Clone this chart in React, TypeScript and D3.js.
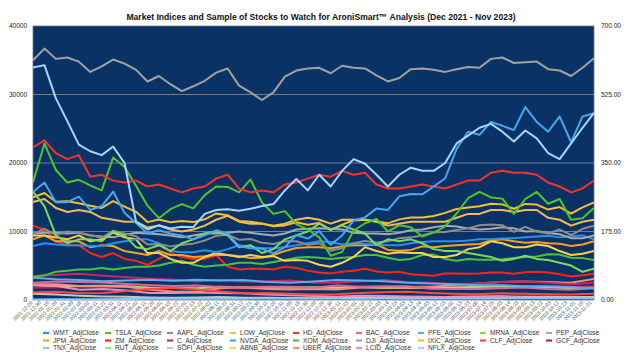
import React from 'react';
import * as d3 from 'd3';

// ---------- data ----------
const tickLabels = [
  "2021-12-20","2021-12-30","2022-01-10","2022-01-20","2022-01-31","2022-02-09","2022-02-18","2022-03-02","2022-03-11","2022-03-22",
  "2022-03-31","2022-04-11","2022-04-21","2022-05-02","2022-05-11","2022-05-20","2022-06-01","2022-06-10","2022-06-22","2022-07-01",
  "2022-07-13","2022-07-22","2022-08-02","2022-08-11","2022-08-22","2022-08-31","2022-09-12","2022-09-21","2022-09-30","2022-10-11",
  "2022-10-20","2022-10-31","2022-11-09","2022-11-18","2022-11-30","2022-12-09","2022-12-20","2022-12-30","2023-01-11","2023-01-23",
  "2023-02-01","2023-02-10","2023-02-22","2023-03-03","2023-03-14","2023-03-23","2023-04-03","2023-04-13","2023-04-24","2023-05-03",
  "2023-05-12","2023-05-23","2023-06-02","2023-06-13","2023-06-23","2023-07-05","2023-07-14","2023-07-25","2023-08-03","2023-08-14",
  "2023-08-23","2023-09-01","2023-09-13","2023-09-22","2023-10-03","2023-10-12","2023-10-23","2023-11-01","2023-11-10","2023-11-21"
];
const tickStep = 7; // trading days between labels
const lastDay = 485;

const leftTicks = [0, 10000, 20000, 30000, 40000];
const rightTicks = [0, 175, 350, 525, 700];

// left-axis series (indices)
const DJI = [35000, 36700, 35200, 35400, 34800, 33300, 34100, 35100, 34500, 33600, 31900, 32700, 31500, 30500, 31200, 32000, 33200, 33800, 31300, 30300, 29200, 30300, 32600, 33500, 33800, 33900, 33100, 34200, 33900, 33800, 32800, 31900, 32400, 33700, 33800, 33600, 33300, 33700, 34000, 33900, 35200, 35400, 34600, 34700, 34800, 33700, 33500, 32700, 33900, 35300];
const IXIC = [14980, 15620, 14340, 14420, 14120, 13750, 13440, 14440, 13640, 12870, 11370, 11740, 11340, 11520, 11370, 11780, 12640, 12380, 11540, 11430, 11180, 10770, 10890, 11360, 10980, 11260, 10210, 11000, 11620, 11720, 11470, 11190, 11770, 12030, 12040, 12260, 12720, 13280, 13500, 13680, 14060, 13960, 13320, 14030, 13930, 13200, 13570, 12600, 13520, 14250];
const RUT = [2180, 2050, 2040, 2080, 2000, 1800, 1750, 1720, 1920, 1840, 1750, 1810, 1860, 1760, 1890, 1760, 1740, 1780, 1830, 1890, 1980, 1920, 1860, 1720, 1800];
const GCF = [1800, 1840, 1900, 1920, 1970, 1820, 1870, 1730, 1800, 1720, 1720, 1650, 1800, 1820, 1930, 1830, 1960, 2000, 1975, 1935, 1980, 1920, 1930, 1880, 1990];

// right-axis series (stocks, TNX)
const NFLX = [594, 600, 515, 457, 397, 380, 370, 392, 350, 200, 180, 191, 183, 187, 186, 220, 230, 232, 228, 233, 240, 245, 280, 309, 280, 320, 290, 330, 360, 348, 320, 290, 320, 338, 330, 330, 350, 400, 420, 440, 450, 430, 405, 433, 413, 375, 360, 400, 440, 478];
const NVDA = [276, 300, 250, 250, 264, 230, 240, 277, 222, 197, 170, 178, 170, 165, 155, 165, 178, 170, 137, 132, 131, 119, 135, 166, 157, 176, 141, 165, 203, 211, 234, 230, 265, 271, 270, 290, 311, 386, 430, 422, 455, 445, 434, 493, 455, 430, 469, 403, 469, 477];
const TSLA = [300, 400, 332, 300, 307, 293, 280, 364, 340, 292, 241, 209, 232, 245, 234, 268, 290, 289, 275, 308, 249, 220, 227, 194, 180, 160, 113, 123, 177, 196, 207, 175, 191, 186, 162, 172, 188, 221, 260, 276, 262, 259, 220, 258, 276, 246, 258, 205, 209, 235];
const MRNA = [277, 240, 165, 145, 155, 155, 150, 175, 165, 135, 130, 140, 125, 145, 155, 170, 175, 165, 135, 140, 120, 130, 155, 165, 175, 195, 180, 190, 180, 170, 140, 155, 150, 155, 145, 130, 125, 125, 120, 115, 110, 100, 105, 113, 105, 102, 95, 88, 72, 80];
const HD = [390, 408, 375, 360, 370, 315, 320, 305, 300, 305, 290, 295, 285, 275, 285, 290, 310, 320, 285, 275, 280, 275, 295, 300, 310, 320, 315, 330, 320, 325, 295, 285, 285, 290, 295, 290, 285, 295, 305, 305, 325, 330, 325, 325, 320, 300, 290, 275, 285, 305];
const LOW = [250, 258, 235, 225, 230, 225, 210, 205, 200, 200, 185, 190, 180, 175, 180, 190, 205, 215, 200, 195, 195, 190, 195, 205, 210, 205, 195, 205, 205, 205, 200, 190, 195, 200, 200, 200, 200, 210, 220, 220, 230, 230, 225, 230, 230, 210, 205, 190, 200, 205];
const JPM = [155, 165, 150, 150, 150, 135, 140, 138, 125, 120, 115, 125, 115, 115, 110, 112, 115, 115, 112, 107, 108, 115, 125, 133, 135, 135, 132, 137, 140, 140, 142, 128, 126, 128, 137, 135, 138, 140, 142, 143, 152, 155, 150, 146, 148, 145, 144, 138, 142, 150];
const ABNB = [165, 165, 160, 155, 165, 150, 155, 172, 160, 155, 120, 120, 105, 95, 95, 110, 120, 115, 110, 115, 110, 112, 100, 102, 100, 90, 85, 95, 110, 135, 125, 118, 122, 120, 120, 110, 110, 115, 130, 135, 150, 145, 135, 135, 142, 138, 125, 115, 118, 125];
const AAPL = [168, 182, 166, 175, 172, 166, 159, 177, 170, 163, 142, 143, 137, 141, 144, 152, 164, 167, 154, 156, 146, 143, 150, 150, 141, 145, 126, 133, 145, 151, 147, 150, 158, 160, 165, 173, 174, 179, 183, 191, 193, 191, 174, 187, 175, 170, 180, 166, 182, 190];
const PEP = [170, 172, 172, 170, 172, 165, 162, 160, 167, 172, 170, 168, 165, 160, 165, 170, 170, 172, 175, 172, 168, 165, 170, 180, 182, 183, 182, 180, 172, 170, 170, 168, 172, 178, 180, 186, 190, 188, 183, 180, 182, 186, 183, 175, 176, 171, 168, 158, 158, 165];
const WMT = [138, 145, 142, 140, 140, 138, 138, 145, 150, 155, 155, 145, 125, 122, 122, 127, 122, 130, 140, 135, 133, 132, 135, 140, 145, 150, 148, 142, 145, 143, 142, 140, 140, 145, 148, 150, 150, 150, 152, 155, 155, 157, 158, 160, 162, 164, 160, 163, 165, 155];
const XOM = [58, 63, 72, 75, 78, 78, 82, 78, 82, 85, 85, 88, 95, 100, 90, 85, 88, 90, 95, 95, 92, 97, 102, 108, 110, 108, 105, 108, 110, 115, 115, 108, 102, 105, 115, 116, 105, 100, 105, 103, 103, 104, 107, 110, 111, 117, 116, 108, 107, 102];
const ZM = [190, 180, 150, 140, 140, 120, 110, 120, 105, 100, 90, 105, 120, 110, 105, 105, 115, 85, 78, 80, 80, 78, 85, 82, 75, 70, 68, 72, 75, 80, 73, 70, 72, 66, 64, 62, 68, 68, 67, 68, 70, 70, 67, 71, 72, 70, 66, 60, 63, 67];
const BAC = [44, 47, 46, 45, 41, 38, 36, 37, 33, 32, 34, 34, 31, 37, 34, 35, 35, 29, 28, 28, 30, 32, 28, 26, 30];
const PFE = [57, 53, 51, 48, 50, 52, 49, 52, 50, 51, 46, 44, 47, 51, 50, 48, 44, 42, 40, 38, 38, 35, 35, 33, 30];
const C = [61, 64, 67, 62, 58, 54, 52, 47, 51, 47, 48, 50, 45, 44, 48, 51, 46, 44, 41, 42, 46, 47, 44, 40, 44];
const CLF = [20, 21, 17, 18, 23, 28, 31, 27, 22, 17, 18, 16, 14, 15, 18, 20, 21, 18, 16, 15, 17, 16, 15, 14, 16];
const TNX = [1.4, 1.8, 1.9, 2.1, 2.8, 2.9, 3.2, 2.9, 2.9, 3.3, 3.8, 3.8, 3.6, 3.8, 3.5, 3.9, 3.4, 3.6, 3.7, 3.8, 4.1, 4.3, 4.3, 4.7, 4.4];
const SOFI = [16, 14, 11, 9, 8, 6.5, 6, 6.5, 7.5, 6, 5.5, 4.8, 4.6, 5, 6, 6, 6, 6.5, 8, 9, 9.5, 8.5, 8, 7.5, 7.5];
const UBER = [40, 40, 36, 35, 34, 26, 22, 21, 30, 33, 28, 27, 28, 27, 32, 32, 31, 33, 38, 42, 46, 47, 46, 44, 54];
const LCID = [38, 36, 26, 28, 24, 18, 18, 19, 18, 17, 14, 12, 10, 8, 11, 10, 9, 8, 7, 6.8, 8.5, 6.2, 5.6, 5.5, 4.3];

// legend order (row-major, 9 columns)
const legendNames = [
  "WMT","TSLA","AAPL","LOW","HD","BAC","PFE","MRNA","PEP",
  "JPM","ZM","C","NVDA","XOM","DJI","IXIC","CLF","GCF",
  "TNX","RUT","SOFI","ABNB","UBER","LCID","NFLX"
];
// drawing order (back to front)
const drawOrder = ["GCF","RUT","SOFI","LCID","UBER","CLF","BAC","C","PFE","ZM","XOM","JPM","ABNB","WMT","PEP","AAPL","LOW","IXIC","MRNA","TSLA","HD","NVDA","TNX","DJI","NFLX"];

const seriesValues: Record<string, number[]> = {
  DJI, IXIC, RUT, GCF, NFLX, NVDA, TSLA, MRNA, HD, LOW, JPM, ABNB, AAPL, PEP, WMT, XOM, ZM,
  BAC, PFE, C, CLF, TNX, SOFI, UBER, LCID,
};
const leftAxisSeries = ["DJI", "IXIC", "RUT", "GCF"];

const colors: Record<string, string> = {
  WMT: "#2a8ff0", TSLA: "#52c42c", AAPL: "#8c8c8c", LOW: "#f6b95a", HD: "#f5332b",
  BAC: "#dc6a94", PFE: "#62a9ee", MRNA: "#7ed85c", PEP: "#a9a9a9",
  JPM: "#f7a21c", ZM: "#ff2416", C: "#c72a5c", NVDA: "#45a6f2", XOM: "#49c43a",
  DJI: "#a2a2a2", IXIC: "#f5c02c", CLF: "#ff4b3b", GCF: "#c11e5c",
  TNX: "#86c8f6", RUT: "#9ee27a", SOFI: "#c6c6c6", ABNB: "#fcd14c", UBER: "#f68b80",
  LCID: "#f08cbc", NFLX: "#a4d6fb",
};

// ---------- layout ----------
const W = 640, H = 360;
const plotL = 33, plotR = 594, plotT = 26, plotB = 300;
const FONT = "'Liberation Sans', Arial, Helvetica, sans-serif";

export default function App() {
  const x = d3.scaleLinear().domain([0, lastDay]).range([plotL, plotR]);
  const yL = d3.scaleLinear().domain([0, 40000]).range([plotB, plotT]);
  const yR = d3.scaleLinear().domain([0, 700]).range([plotB, plotT]);

  const pathFor = (name: string) => {
    const vals = seriesValues[name];
    const ys = leftAxisSeries.includes(name) ? yL : yR;
    const n = vals.length;
    const line = d3.line<number>()
      .x((_, i) => x((i * lastDay) / (n - 1)))
      .y((v) => ys(v));
    return line(vals) || "";
  };

  const legendColX = [43, 105, 167, 230, 293, 356, 418, 480, 546];
  const legendRowY = [335, 342.5, 350];

  return (
    <svg width={W} height={H} style={{ position: "absolute", left: 0, top: 0, background: "#fff" }} fontFamily={FONT}>
      <text x={321} y={19.5} textAnchor="middle" fontSize={8.6} fontWeight="bold" fill="#111">
        Market Indices and Sample of Stocks to Watch for AroniSmart™ Analysis (Dec 2021 - Nov 2023)
      </text>

      <rect x={plotL} y={plotT} width={plotR - plotL} height={plotB - plotT} fill="#0b3264" stroke="#6c7688" strokeWidth={0.8} />

      {leftTicks.filter((t) => t > 0 && t < 40000).map((t) => (
        <line key={"g" + t} x1={plotL} x2={plotR} y1={yL(t)} y2={yL(t)} stroke="#6f7c92" strokeWidth={1} />
      ))}

      <defs>
        <clipPath id="plotclip">
          <rect x={plotL} y={plotT} width={plotR - plotL} height={plotB - plotT} />
        </clipPath>
      </defs>
      <g clipPath="url(#plotclip)">
        {drawOrder.map((name) => (
          <path key={name} d={pathFor(name)} fill="none" stroke={colors[name]} strokeWidth={2} strokeLinejoin="round" />
        ))}
      </g>

      {leftTicks.map((t) => (
        <text key={"l" + t} x={27} y={yL(t) + 2.2} textAnchor="end" fontSize={6.5} fill="#222">{t}</text>
      ))}
      {rightTicks.map((t) => (
        <text key={"r" + t} x={601} y={yR(t) + 2.2} textAnchor="start" fontSize={6.5} fill="#222">{t.toFixed(2)}</text>
      ))}

      {tickLabels.map((lab, i) => {
        const tx = x(i * tickStep);
        return (
          <text key={lab} transform={`translate(${tx},${plotB + 3}) rotate(-45)`} textAnchor="end" fontSize={5} fill="#444">
            {lab}
          </text>
        );
      })}

      {legendNames.map((name, i) => {
        const col = i % 9;
        const row = Math.floor(i / 9);
        const lx = legendColX[col];
        const ly = legendRowY[row];
        return (
          <g key={"lg" + name}>
            <line x1={lx} x2={lx + 6} y1={ly - 2} y2={ly - 2} stroke={colors[name]} strokeWidth={2.2} />
            <text x={lx + 10} y={ly} fontSize={6.6} fill="#333">{name}_AdjClose</text>
          </g>
        );
      })}
    </svg>
  );
}
